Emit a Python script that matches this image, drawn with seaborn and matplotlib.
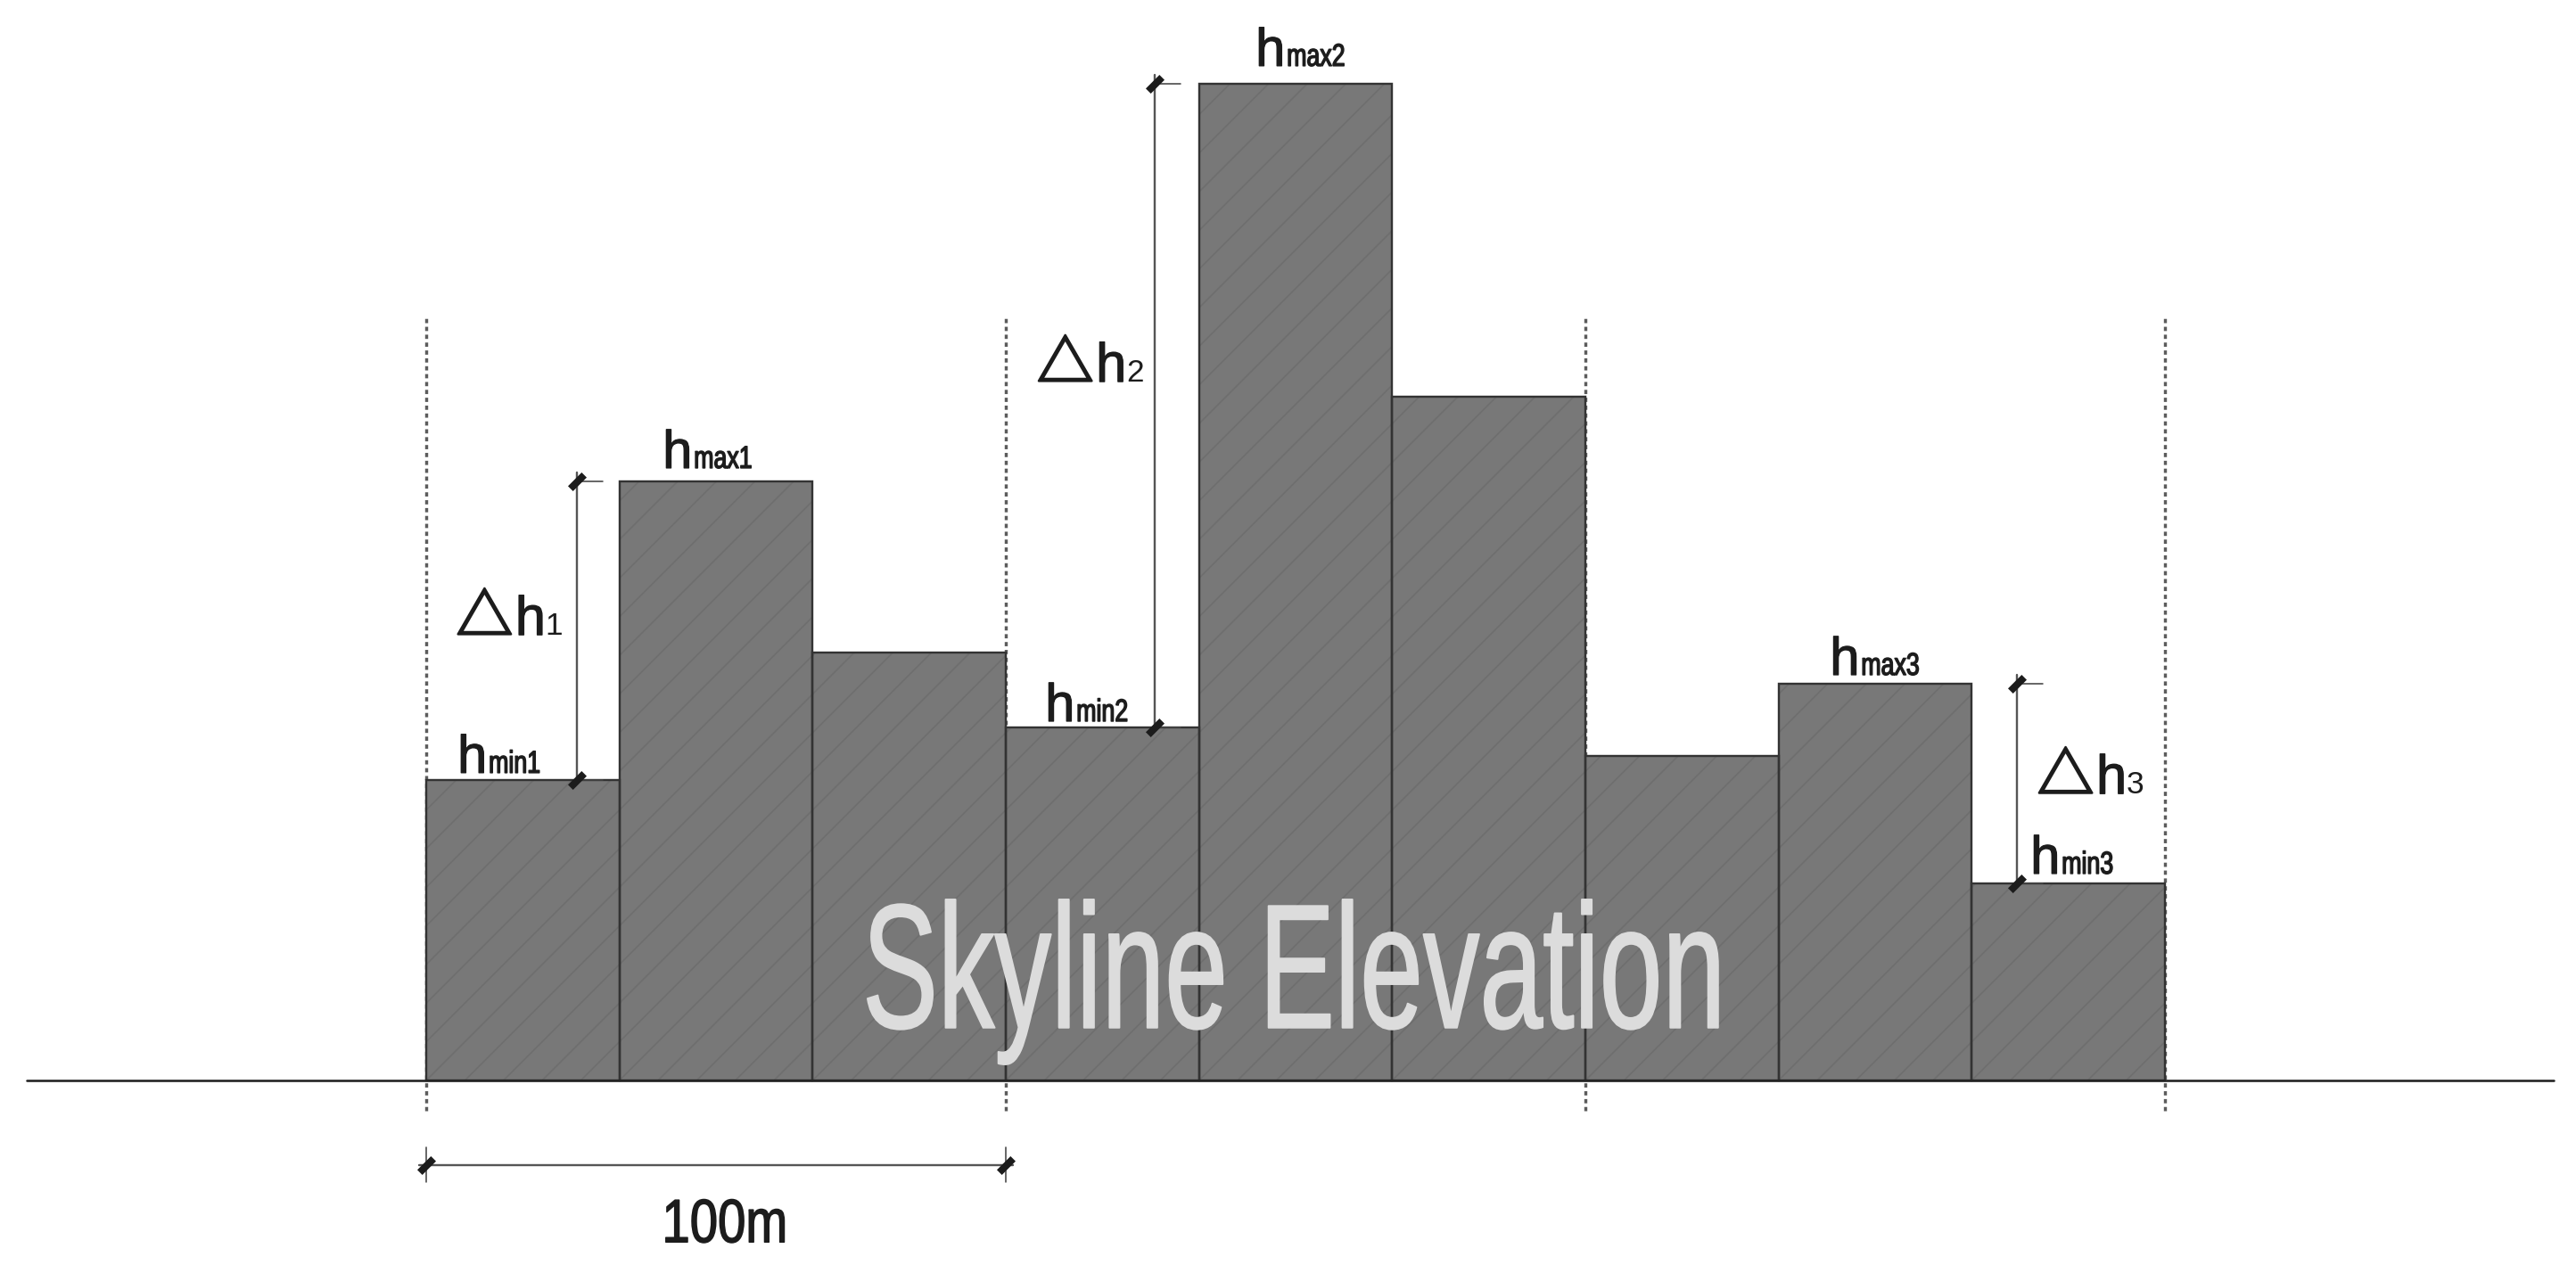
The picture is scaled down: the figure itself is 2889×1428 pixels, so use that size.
import numpy as np
import pandas as pd
import matplotlib
matplotlib.use('Agg')
import matplotlib.pyplot as plt
import matplotlib.patheffects as pe
from matplotlib.path import Path
from matplotlib.transforms import Affine2D
import seaborn as sns

# building heights in metres, every plot is 100m wide and holds 3 buildings
bar_width = 100 / 3
heights = [51.8, 103.4, 73.9, 60.9, 172.0, 118.0, 56.0, 68.5, 34.0]
plot_edges = [0, 100, 200, 300]

# dimension lines (x, low, high)
dim_x = [26.0, 125.7, 274.5]
dim_low = [51.8, 60.9, 34.0]
dim_high = [103.4, 172.0, 68.5]

# h labels: subscript, x, y (metres)
h_subs = ['min1', 'max1', 'min2', 'max2', 'max3', 'min3']
h_x = [5.4, 40.8, 106.8, 143.1, 242.2, 276.8]
h_y = [53.1, 105.7, 62.0, 175.1, 70.0, 35.7]

# delta labels
d_subs = ['1', '2', '3']
d_x = [5.2, 105.4, 278.0]
d_y = [76.9, 120.6, 49.5]

title = 'Skyline Elevation'
span_label = '100m'

sns.set_theme(style='white')
plt.rcParams['font.family'] = ['Liberation Sans', 'DejaVu Sans']
plt.rcParams['hatch.linewidth'] = 0.9

DPI = 130
PX = 72 / DPI
fig = plt.figure(figsize=(2889 / DPI, 1428 / DPI), dpi=DPI, facecolor='white')
ax = fig.add_axes([0, 0, 1, 1])

df = pd.DataFrame({'x': (np.arange(len(heights)) + 0.5) * bar_width, 'h': heights})


class Squeeze(pe.AbstractPathEffect):
    # narrows a text around a pixel x, there is no condensed font here
    def __init__(self, factor, cx, stroke=0, color=None):
        super().__init__()
        self.factor = factor
        self.cx = cx
        self.stroke = stroke
        self.color = color

    def draw_path(self, renderer, gc, tpath, affine, rgbFace=None):
        squeeze = Affine2D().translate(-self.cx, 0).scale(self.factor, 1).translate(self.cx, 0)
        gc0 = renderer.new_gc()
        gc0.copy_properties(gc)
        if self.stroke:
            gc0.set_linewidth(self.stroke)
            gc0.set_foreground(self.color)
        renderer.draw_path(gc0, tpath, affine + squeeze, rgbFace)
        gc0.restore()


# dashed plot limits go under the bars
ax.vlines(plot_edges, -5.2, 131.5, color='#5c5c5c', lw=3.4 * PX, ls=(0, (1.4, 1.2)), zorder=1)

sns.barplot(data=df, x='x', y='h', native_scale=True, width=1, color='#787878', saturation=1,
            edgecolor='#6e6e6e', linewidth=0, hatch='/', ax=ax, zorder=2)
sns.barplot(data=df, x='x', y='h', native_scale=True, width=1, facecolor='none', saturation=1,
            edgecolor='#333333', linewidth=2.4 * PX, ax=ax, zorder=3)

ax.set_xlim(-478 / 6.5, (2889 - 478) / 6.5)
ax.set_ylim(-(1428 - 1212) / 6.5, 1212 / 6.5)
ax.axis('off')
to_px = ax.transData.transform

# ground
ax.plot([-69, 367], [0, 0], color='#222222', lw=2.6 * PX, zorder=4)

# architectural tick mark
slash = Path([(-1, -1), (1, 1)])
ink = '#1c1c1c'
tick = dict(marker=slash, ms=8.5, mew=8 * PX, color=ink, zorder=5)
for x, lo, hi in zip(dim_x, dim_low, dim_high):
    ax.plot([x, x], [lo, hi + 1.5], color='#555555', lw=2.4 * PX, zorder=4)
    for y in (lo, hi):
        ax.plot([x, x + 4.4], [y, y], color='#444444', lw=1.6 * PX, zorder=4)
        ax.plot([x], [y], **tick)

ax.plot([-1.2, 101.2], [-14.6, -14.6], color='#555555', lw=2.4 * PX, zorder=4)
for x in plot_edges[:2]:
    ax.plot([x, x], [-11.6, -17.6], color='#444444', lw=1.6 * PX, zorder=4)
    ax.plot([x], [-14.6], **tick)

# labels
for s, x, y in zip(h_subs, h_x, h_y):
    t = ax.text(x, y, 'h', fontsize=33, color=ink, ha='left', va='baseline', zorder=6)
    t.set_path_effects([pe.withStroke(linewidth=0.7, foreground=ink)])
    left = to_px((x, y))[0] + 35
    a = ax.annotate(s, (x, y), xytext=(35 * PX, 0), textcoords='offset points', fontsize=19.5,
                    color=ink, va='baseline', zorder=6)
    a.set_path_effects([Squeeze(0.76, left, stroke=0.8, color=ink)])

for s, x, y in zip(d_subs, d_x, d_y):
    t = ax.text(x, y, '△', fontsize=35, family=['Noto Sans CJK SC', 'DejaVu Sans'], color=ink,
                ha='left', va='baseline', zorder=6)
    t.set_path_effects([pe.withStroke(linewidth=1.4, foreground=ink)])
    a = ax.annotate('h', (x, y), xytext=(66 * PX, 0), textcoords='offset points', fontsize=34,
                    color=ink, va='baseline', zorder=6)
    a.set_path_effects([pe.withStroke(linewidth=0.7, foreground=ink)])
    ax.annotate(s, (x, y), xytext=(100 * PX, 0), textcoords='offset points', fontsize=19.5,
                color=ink, va='baseline', zorder=6)

span_anchor = (51.5, -27.9)
t = ax.text(*span_anchor, span_label, fontsize=38, color=ink, ha='center', va='baseline', zorder=6)
t.set_path_effects([Squeeze(0.82, to_px(span_anchor)[0], stroke=0.8, color=ink)])

title_anchor = (149.7, 9.1)
t = ax.text(*title_anchor, title, fontsize=110, color='#dcdcdc', ha='center', va='baseline', zorder=6)
t.set_path_effects([Squeeze(0.64, to_px(title_anchor)[0], stroke=1.0, color='#dcdcdc')])

fig.savefig('out.png', dpi=DPI)
